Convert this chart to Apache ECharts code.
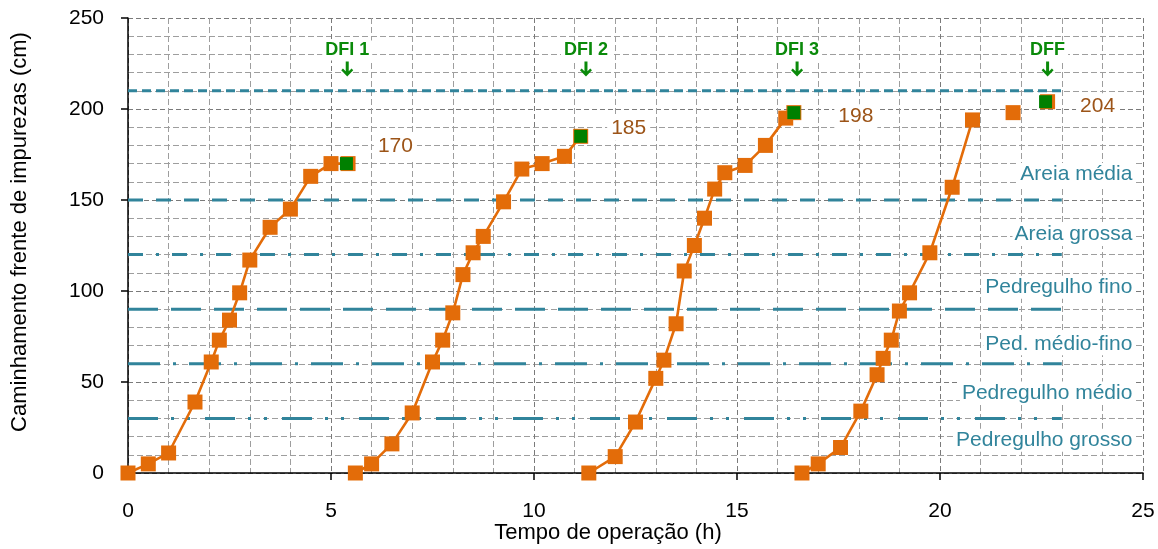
<!DOCTYPE html>
<html>
<head>
<meta charset="utf-8">
<script src="https://cdn.jsdelivr.net/npm/echarts@6/dist/echarts.min.js"></script>
<style>
  html, body { margin: 0; padding: 0; background: #fff; }
  #chart { width: 1158px; height: 549px; }
</style>
</head>
<body>
<div id="chart"></div>
<script>
// Filter runs: operating time (h) vs. penetration depth of the impurity front (cm)
const run1Time  = [0, 0.5, 1.0, 1.65, 2.05, 2.25, 2.5, 2.75, 3.0, 3.5, 4.0, 4.5, 5.0, 5.42];
const run1Depth = [0, 5, 11, 39, 61, 73, 84, 99, 117, 135, 145, 163, 170, 170];
const run2Time  = [5.6, 6.0, 6.5, 7.0, 7.5, 7.75, 8.0, 8.25, 8.5, 8.75, 9.25, 9.7, 10.2, 10.75, 11.15];
const run2Depth = [0, 5, 16, 33, 61, 73, 88, 109, 121, 130, 149, 167, 170, 174, 185];
const run3Time  = [11.35, 12.0, 12.5, 13.0, 13.2, 13.5, 13.7, 13.95, 14.2, 14.45, 14.7, 15.2, 15.7, 16.2, 16.4];
const run3Depth = [0, 9, 28, 52, 62, 82, 111, 125, 140, 156, 165, 169, 180, 195, 198];
const run4Time  = [16.6, 17.0, 17.55, 18.05, 18.45, 18.6, 18.8, 19.0, 19.25, 19.75, 20.3, 20.8];
const run4Depth = [0, 5, 14, 34, 54, 63, 73, 89, 99, 121, 157, 194];
const run4TailTime  = [21.8, 22.65];
const run4TailDepth = [198, 204];

// End of each run (intermediate and final downward flushes)
const endTime  = [5.38, 11.15, 16.4, 22.6];
const endDepth = [170, 185, 198, 204];
const endNames = ['DFI 1', 'DFI 2', 'DFI 3', 'DFF'];
const flushTime = [5.4, 11.28, 16.48, 22.65];

// Filter bed layers: upper boundary (cm) and name
const layerTop   = [30, 60, 90, 120, 150, 210];
const layerNames = ['Pedregulho grosso', 'Pedregulho médio', 'Ped. médio-fino', 'Pedregulho fino', 'Areia grossa', 'Areia média'];

// Axis ranges and ticks
const xMin = 0, xMax = 25, xStep = 5;
const yMin = 0, yMax = 250, yStep = 50;

const FONT = "'Liberation Sans', Arial, sans-serif";
const ORANGE = '#E36C09';
const GREEN = '#008000';
const TEXT_GREEN = '#0A8A0A';
const TEAL = '#31849B';
const BROWN = '#9C5418';

const zip = (xs, ys) => xs.map((x, i) => [x, ys[i]]);

// layout of text and line patterns
const layerLineEnd = 23;
const layerLabelX = 24.8;
const layerLabelY = [18, 44, 71, 102, 131, 164];
const layerDash = [
  [30, 13, 3, 13, 3, 15],
  [32, 13, 3, 13],
  [30, 13],
  [15, 13, 3, 13],
  [15, 13],
  [9, 5]
];
const endLabelOffset = [[49, -17], [48, -8], [62, 4], [52, 4]];
const flushArrowY = 222;

const runSeries = [[run1Time, run1Depth], [run2Time, run2Depth], [run3Time, run3Depth], [run4Time, run4Depth]]
  .map(([t, d]) => ({
    type: 'line',
    data: zip(t, d),
    symbol: 'rect',
    symbolSize: 15,
    lineStyle: { color: ORANGE, width: 2.6 },
    itemStyle: { color: ORANGE, opacity: 1 },
    z: 5
  }));

const layerSeries = layerTop.map((b, i) => ({
  type: 'line',
  data: [[0, b], [layerLineEnd, b]],
  symbol: 'none',
  lineStyle: { color: TEAL, width: 3, type: layerDash[i] },
  z: 3,
  silent: true
}));

const option = {
  backgroundColor: '#fff',
  animation: false,
  grid: { left: 128, right: 15, top: 18, bottom: 76, containLabel: false },
  xAxis: {
    type: 'value', min: xMin, max: xMax, interval: xStep,
    axisLine: { show: true, onZero: false, lineStyle: { color: '#000', width: 1.5 } },
    axisTick: { show: true, length: 7, lineStyle: { color: '#000', width: 1.5 } },
    axisLabel: { color: '#000', fontSize: 21, fontFamily: FONT, margin: 28 },
    splitLine: { show: true, lineStyle: { color: '#7A7A7A', type: [5, 3], width: 1 } },
    minorTick: { show: false, splitNumber: 5 },
    minorSplitLine: { show: true, lineStyle: { color: '#9E9E9E', type: [6, 3], width: 1 } }
  },
  yAxis: {
    type: 'value', min: yMin, max: yMax, interval: yStep,
    axisLine: { show: true, lineStyle: { color: '#000', width: 1.5 } },
    axisTick: { show: true, length: 7, lineStyle: { color: '#000', width: 1.5 } },
    axisLabel: { color: '#000', fontSize: 21, fontFamily: FONT, margin: 24 },
    splitLine: { show: true, lineStyle: { color: '#7A7A7A', type: [5, 3], width: 1 } },
    minorTick: { show: false, splitNumber: 5 },
    minorSplitLine: { show: true, lineStyle: { color: '#9E9E9E', type: [6, 3], width: 1 } }
  },
  graphic: [
    {
      type: 'text', x: 20, y: 232, rotation: Math.PI / 2,
      style: {
        text: 'Caminhamento frente de impurezas (cm)',
        font: '22px ' + FONT, fill: '#000',
        align: 'center', verticalAlign: 'middle',
        textAlign: 'center', textVerticalAlign: 'middle'
      }
    },
    {
      type: 'text', x: 608, y: 533,
      style: {
        text: 'Tempo de operação (h)',
        font: '22px ' + FONT, fill: '#000',
        align: 'center', verticalAlign: 'middle',
        textAlign: 'center', textVerticalAlign: 'middle'
      }
    }
  ],
  series: [
    ...layerSeries,
    ...runSeries,
    {
      // last readings of the final run, not joined to the curve
      type: 'scatter',
      data: zip(run4TailTime, run4TailDepth),
      symbol: 'rect', symbolSize: 15,
      itemStyle: { color: ORANGE, opacity: 1 },
      z: 5
    },
    {
      // depth reached at each flush
      type: 'scatter',
      data: endTime.map((t, i) => ({
        value: [t, endDepth[i]],
        label: { offset: endLabelOffset[i] }
      })),
      symbol: 'rect', symbolSize: 13,
      itemStyle: { color: GREEN, opacity: 1 },
      label: {
        show: true, position: 'inside',
        formatter: p => String(p.value[1]),
        color: BROWN, fontSize: 21, fontFamily: FONT,
        backgroundColor: '#fff', padding: [2, 4]
      },
      z: 6
    },
    {
      // flush markers
      type: 'scatter',
      data: flushTime.map((t, i) => ({ value: [t, flushArrowY], name: endNames[i] })),
      symbol: 'path://M4.5,0 L7.5,0 L7.5,9.5 L10.3,6.7 L12,8.4 L6,14.5 L0,8.4 L1.7,6.7 L4.5,9.5 Z',
      symbolSize: [12, 15],
      itemStyle: { color: TEXT_GREEN, opacity: 1 },
      label: {
        show: true, position: 'top', distance: 1,
        formatter: '{b}',
        color: TEXT_GREEN, fontSize: 18, fontWeight: 'bold', fontFamily: FONT,
        backgroundColor: '#fff', padding: [1, 3]
      },
      z: 6
    },
    {
      // names of the filter bed layers
      type: 'scatter',
      data: layerNames.map((n, i) => ({ value: [layerLabelX, layerLabelY[i]], name: n })),
      symbol: 'rect', symbolSize: 1,
      itemStyle: { color: 'rgba(255,255,255,0)', opacity: 1 },
      label: {
        show: true, position: 'left', distance: 0,
        formatter: '{b}',
        color: TEAL, fontSize: 21, fontFamily: FONT,
        backgroundColor: '#fff', padding: [1, 2]
      },
      z: 4
    }
  ]
};

const chart = echarts.init(document.getElementById('chart'), null, { renderer: 'canvas' });
chart.setOption(option);
</script>
</body>
</html>
